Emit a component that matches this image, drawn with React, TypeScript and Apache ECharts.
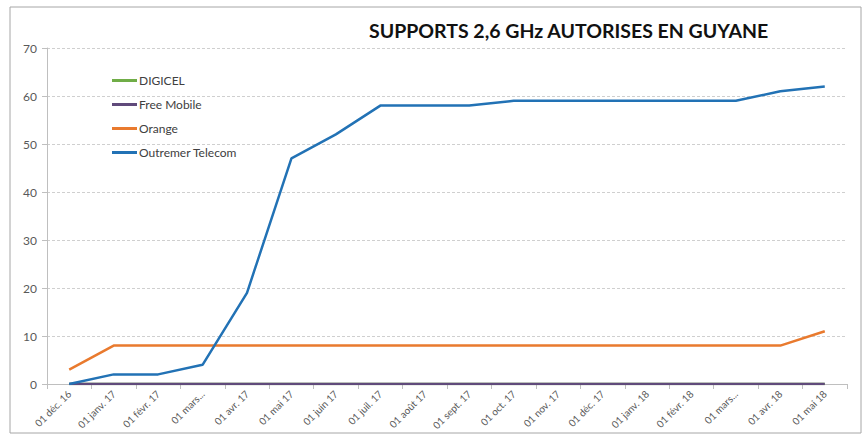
import React, { useEffect, useRef } from "react";
import * as echarts from "echarts";

const categories = [
  "01 déc. 16", "01 janv. 17", "01 févr. 17", "01 mars...", "01 avr. 17", "01 mai 17",
  "01 juin 17", "01 juil. 17", "01 août 17", "01 sept. 17", "01 oct. 17", "01 nov. 17",
  "01 déc. 17", "01 janv. 18", "01 févr. 18", "01 mars...", "01 avr. 18", "01 mai 18",
];
const digicel = [0, 0, 0, 0, 0, 0, 0, 0, 0, 0, 0, 0, 0, 0, 0, 0, 0, 0];
const freeMobile = [0, 0, 0, 0, 0, 0, 0, 0, 0, 0, 0, 0, 0, 0, 0, 0, 0, 0];
const orange = [3, 8, 8, 8, 8, 8, 8, 8, 8, 8, 8, 8, 8, 8, 8, 8, 8, 11];
const outremer = [0, 2, 2, 4, 19, 47, 52, 58, 58, 58, 59, 59, 59, 59, 59, 59, 61, 62];
const seriesNames = ["DIGICEL", "Free Mobile", "Orange", "Outremer Telecom"];
const colors = ["#70AD47", "#604A7B", "#E97A2E", "#2272B5"];

export default function App() {
  const ref = useRef<HTMLDivElement>(null);
  useEffect(() => {
    if (!ref.current) return;
    const chart = echarts.init(ref.current, null, { renderer: "svg" });
    const font = "Lato, 'Open Sans', sans-serif";
    const data = [digicel, freeMobile, orange, outremer];
    chart.setOption({
      animation: false,
      backgroundColor: "#ffffff",
      textStyle: { fontFamily: font },
      title: {
        text: "SUPPORTS 2,6 GHz AUTORISES EN GUYANE",
        left: 369,
        top: 20,
        padding: 0,
        textStyle: { fontSize: 19.5, fontWeight: "bold", color: "#111111", fontFamily: font },
      },
      legend: {
        orient: "vertical",
        left: 112,
        top: 74,
        padding: 0,
        itemGap: 11,
        itemWidth: 25,
        itemHeight: 3,
        icon: "rect",
        data: seriesNames,
        textStyle: { fontSize: 12, color: "#404040", lineHeight: 13, padding: [0, 0, 0, -3] },
      },
      graphic: [
        {
          type: "rect",
          shape: { x: 10, y: 7, width: 851, height: 426 },
          style: { fill: "none", stroke: "#a6a6a6", lineWidth: 1 },
          silent: true,
        },
      ],
      grid: { left: 47, right: 17, top: 48, bottom: 57, containLabel: false },
      xAxis: {
        type: "category",
        data: categories,
        boundaryGap: true,
        axisLine: { lineStyle: { color: "#bfbfbf", width: 1 } },
        axisTick: { show: true, length: 5, lineStyle: { color: "#bfbfbf" } },
        axisLabel: { rotate: 45, fontSize: 10, color: "#595959", margin: 8, interval: 0 },
      },
      yAxis: {
        type: "value",
        min: 0,
        max: 70,
        interval: 10,
        axisLine: { show: true, lineStyle: { color: "#bfbfbf" } },
        axisTick: { show: true, length: 5, lineStyle: { color: "#bfbfbf" } },
        axisLabel: { fontSize: 12, color: "#595959", margin: 10 },
        splitLine: { show: true, lineStyle: { color: "#cfcfcf", type: [3, 2] } },
      },
      series: seriesNames.map((name, i) => ({
        name,
        type: "line",
        data: data[i],
        symbol: "none",
        color: colors[i],
        lineStyle: { width: 2.5, color: colors[i] },
        z: 2 + i,
      })),
    });
    return () => chart.dispose();
  }, []);
  return (
    <div
      ref={ref}
      style={{ position: "absolute", left: 0, top: 0, width: 864, height: 441 }}
    />
  );
}
